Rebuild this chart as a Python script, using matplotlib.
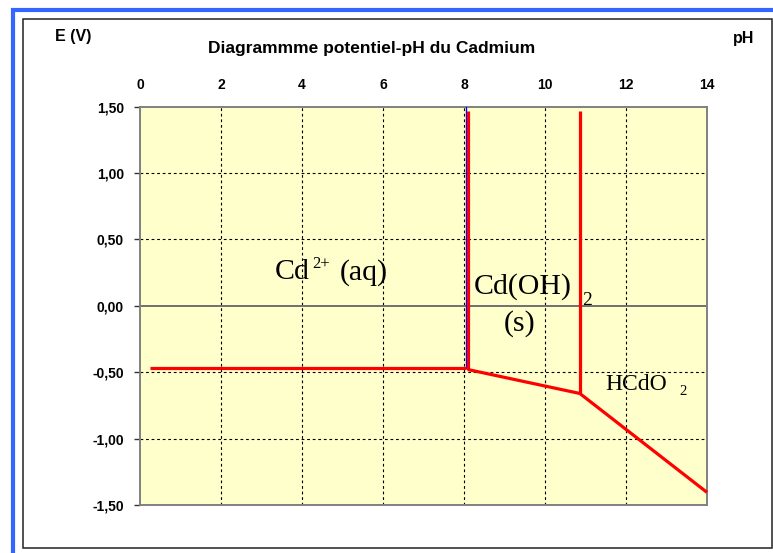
import matplotlib
matplotlib.use("Agg")
import matplotlib.pyplot as plt
from matplotlib.patches import Rectangle

# ---- data ----
x_ticks = [0, 2, 4, 6, 8, 10, 12, 14]
y_ticks = [-1.5, -1.0, -0.5, 0.0, 0.5, 1.0, 1.5]
y_tick_labels = ["-1,50", "-1,00", "-0,50", "0,00", "0,50", "1,00", "1,50"]

# Cd2+ / Cd(s) horizontal boundary
h_ph = [0.25, 8.05]
h_e = [-0.47, -0.47]
# Cd2+ / Cd(OH)2 vertical boundary (red)
v1_ph = [8.10, 8.10]
v1_e = [1.47, -0.48]
# blue companion line
vb_ph = [8.06, 8.06]
vb_e = [1.50, -0.47]
# Cd(OH)2 / HCdO2- vertical boundary
v2_ph = [10.86, 10.86]
v2_e = [1.47, -0.66]
# lower boundary (solid / metal)
low_ph = [8.10, 10.86, 14.0]
low_e = [-0.48, -0.66, -1.405]

W, H = 773, 553
fig = plt.figure(figsize=(W / 100, H / 100), dpi=100)
fig.patch.set_facecolor('white')

# outer frames
fig.patches.append(Rectangle((13 / W, -0.2), 1.2, 1 - 10 / H + 0.2, transform=fig.transFigure,
                             fill=False, edgecolor='#3366FF', linewidth=3.0, zorder=0))
fig.patches.append(Rectangle((22.5 / W, 1 - 548 / H), (772 - 22.5) / W, (548 - 18.5) / H,
                             transform=fig.transFigure, fill=False, edgecolor='#222222',
                             linewidth=1.1, zorder=0))

ax = fig.add_axes([140 / W, 1 - 505 / H, (707 - 140) / W, (505 - 106.7) / H])
ax.set_facecolor('#FFFFCC')
ax.set_xlim(0, 14)
ax.set_ylim(-1.5, 1.5)

# grid
for xv in x_ticks[1:-1]:
    ax.axvline(xv, color='black', lw=0.8, dashes=(2.5, 2.5), zorder=1)
for yv in [-1.0, -0.5, 0.5, 1.0]:
    ax.axhline(yv, color='black', lw=0.8, dashes=(2.5, 2.5), zorder=1)
ax.axhline(0.0, color='#707070', lw=1.4, zorder=1.5)

for s in ax.spines.values():
    s.set_color('#808080')
    s.set_linewidth(1.4)

ax.xaxis.tick_top()
ax.set_xticks(x_ticks)
ax.set_xticklabels([str(v) for v in x_ticks], fontsize=10, fontweight='bold',
                   family='Liberation Sans')
ax.tick_params(axis='x', length=0, pad=10.5)
ax.set_yticks(y_ticks)
ax.set_yticklabels(y_tick_labels, fontsize=10, fontweight='bold', family='Liberation Sans')
ax.tick_params(axis='y', length=4.5, width=1.0, color='#333333', pad=7)

# boundaries
ax.plot(vb_ph, vb_e, color='#0000FF', lw=1.0, zorder=3)
ax.plot(h_ph, h_e, color='#FF0000', lw=2.3, zorder=4, solid_capstyle='butt')
ax.plot(v1_ph, v1_e, color='#FF0000', lw=2.3, zorder=4, solid_capstyle='butt')
ax.plot(v2_ph, v2_e, color='#FF0000', lw=2.3, zorder=4, solid_capstyle='butt')
ax.plot(low_ph, low_e, color='#FF0000', lw=2.3, zorder=4, solid_capstyle='butt', clip_on=False)

# species labels (Times-like serif; super/subscripts placed as in the reference)
ser = dict(family='Liberation Serif', color='black', zorder=5, va='baseline')
ax.text(3.33, 0.20, 'Cd', fontsize=21.5, ha='left', **ser)
ax.text(4.25, 0.285, '2+', fontsize=12, ha='left', **ser)
ax.text(4.94, 0.20, '(aq)', fontsize=21.5, ha='left', **ser)

ax.text(8.25, 0.088, 'Cd(OH)', fontsize=21.5, ha='left', **ser)
ax.text(10.91, 0.005, '2', fontsize=14, ha='left', **ser)
ax.text(9.38, -0.19, '(s)', fontsize=21.5, ha='center', **ser)

ax.text(11.48, -0.633, 'HCdO', fontsize=17, ha='left', **ser)
ax.text(13.33, -0.672, '2', fontsize=10.5, ha='left', **ser)

# header texts
fig.text(73 / W, 1 - 36 / H, 'E (V)', fontsize=11.5, fontweight='bold', family='Liberation Sans',
         ha='center', va='center')
fig.text(744 / W, 1 - 39 / H, 'pH', fontsize=11.5, fontweight='bold', family='Liberation Sans',
         ha='center', va='center')
fig.text(372 / W, 1 - 49 / H, 'Diagrammme potentiel-pH du Cadmium', fontsize=12.5,
         fontweight='bold', family='Liberation Sans', ha='center', va='center')

fig.savefig('out.png', dpi=100)
